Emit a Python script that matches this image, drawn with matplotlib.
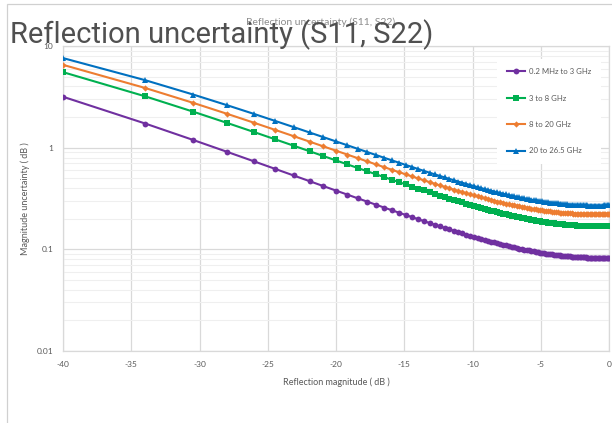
import matplotlib
matplotlib.use("Agg")
import matplotlib.pyplot as plt
from matplotlib.patches import Rectangle
from matplotlib.ticker import FixedLocator, LogLocator, NullFormatter

plt.rcParams['font.family'] = ['Lato', 'DejaVu Sans']

# reflection magnitude (dB), one point per 0.01 of reflection coefficient
refl_db = [
    -40.00, -33.98, -30.46, -27.96, -26.02, -24.44, -23.10, -21.94, -20.92, -20.00,
    -19.17, -18.42, -17.72, -17.08, -16.48, -15.92, -15.39, -14.89, -14.42, -13.98,
    -13.56, -13.15, -12.77, -12.40, -12.04, -11.70, -11.37, -11.06, -10.75, -10.46,
    -10.17, -9.90, -9.63, -9.37, -9.12, -8.87, -8.64, -8.40, -8.18, -7.96,
    -7.74, -7.54, -7.33, -7.13, -6.94, -6.74, -6.56, -6.38, -6.20, -6.02,
    -5.85, -5.68, -5.51, -5.35, -5.19, -5.04, -4.88, -4.73, -4.58, -4.44,
    -4.29, -4.15, -4.01, -3.88, -3.74, -3.61, -3.48, -3.35, -3.22, -3.10,
    -2.97, -2.85, -2.73, -2.62, -2.50, -2.38, -2.27, -2.16, -2.05, -1.94,
    -1.83, -1.72, -1.62, -1.51, -1.41, -1.31, -1.21, -1.11, -1.01, -0.92,
    -0.82, -0.72, -0.63, -0.54, -0.45, -0.35, -0.26, -0.18, -0.09, 0.00,
]

# magnitude uncertainty (dB)
u_0p2_3 = [
    3.168, 1.728, 1.190, 0.908, 0.7347, 0.6172, 0.5324, 0.4685, 0.4185, 0.3783,
    0.3454, 0.3180, 0.2948, 0.2749, 0.2577, 0.2427, 0.2294, 0.2177, 0.2072, 0.1979,
    0.1894, 0.1817, 0.1748, 0.1684, 0.1626, 0.1573, 0.1524, 0.1479, 0.1437, 0.1398,
    0.1362, 0.1329, 0.1297, 0.1268, 0.1241, 0.1216, 0.1192, 0.1169, 0.1148, 0.1129,
    0.1110, 0.1093, 0.1076, 0.1061, 0.1046, 0.1032, 0.1019, 0.1007, 0.0996, 0.0985,
    0.0974, 0.0964, 0.0955, 0.0946, 0.0938, 0.0930, 0.0923, 0.0916, 0.0909, 0.0903,
    0.0897, 0.0892, 0.0887, 0.0882, 0.0877, 0.0873, 0.0869, 0.0865, 0.0861, 0.0858,
    0.0855, 0.0852, 0.0849, 0.0847, 0.0844, 0.0842, 0.0840, 0.0838, 0.0837, 0.0835,
    0.0834, 0.0832, 0.0831, 0.0830, 0.0830, 0.0829, 0.0828, 0.0828, 0.0827, 0.0827,
    0.0827, 0.0827, 0.0827, 0.0827, 0.0827, 0.0828, 0.0828, 0.0829, 0.0829, 0.0830,
]
u_3_8 = [
    5.530, 3.199, 2.259, 1.748, 1.427, 1.206, 1.045, 0.923, 0.8267, 0.7492,
    0.6853, 0.6319, 0.5866, 0.5477, 0.5139, 0.4844, 0.4584, 0.4353, 0.4146, 0.3961,
    0.3794, 0.3643, 0.3505, 0.3380, 0.3265, 0.3159, 0.3062, 0.2972, 0.2889, 0.2812,
    0.2741, 0.2674, 0.2612, 0.2555, 0.2501, 0.2450, 0.2403, 0.2358, 0.2317, 0.2278,
    0.2241, 0.2206, 0.2174, 0.2143, 0.2114, 0.2087, 0.2061, 0.2037, 0.2014, 0.1992,
    0.1972, 0.1952, 0.1934, 0.1917, 0.1901, 0.1885, 0.1871, 0.1857, 0.1844, 0.1832,
    0.1820, 0.1810, 0.1799, 0.1790, 0.1781, 0.1772, 0.1764, 0.1757, 0.1750, 0.1743,
    0.1737, 0.1732, 0.1727, 0.1722, 0.1717, 0.1713, 0.1709, 0.1706, 0.1703, 0.1700,
    0.1697, 0.1695, 0.1693, 0.1692, 0.1690, 0.1689, 0.1688, 0.1687, 0.1687, 0.1687,
    0.1687, 0.1687, 0.1687, 0.1688, 0.1688, 0.1689, 0.1690, 0.1692, 0.1693, 0.1695,
]
u_8_20 = [
    6.527, 3.864, 2.758, 2.148, 1.761, 1.493, 1.297, 1.147, 1.029, 0.9338,
    0.8552, 0.7893, 0.7334, 0.6853, 0.6437, 0.6071, 0.5749, 0.5464, 0.5208, 0.4979,
    0.4773, 0.4585, 0.4415, 0.4260, 0.4118, 0.3987, 0.3867, 0.3757, 0.3655, 0.3560,
    0.3472, 0.3390, 0.3314, 0.3243, 0.3177, 0.3115, 0.3057, 0.3003, 0.2952, 0.2904,
    0.2859, 0.2817, 0.2778, 0.2741, 0.2706, 0.2673, 0.2642, 0.2612, 0.2585, 0.2559,
    0.2535, 0.2512, 0.2490, 0.2470, 0.2450, 0.2432, 0.2415, 0.2399, 0.2385, 0.2370,
    0.2357, 0.2345, 0.2333, 0.2323, 0.2313, 0.2303, 0.2294, 0.2286, 0.2279, 0.2272,
    0.2265, 0.2260, 0.2254, 0.2249, 0.2245, 0.2241, 0.2237, 0.2234, 0.2232, 0.2229,
    0.2228, 0.2226, 0.2225, 0.2224, 0.2223, 0.2223, 0.2223, 0.2223, 0.2224, 0.2225,
    0.2226, 0.2227, 0.2229, 0.2231, 0.2233, 0.2235, 0.2238, 0.2240, 0.2243, 0.2246,
]
u_20_26p5 = [
    7.605, 4.611, 3.330, 2.611, 2.150, 1.829, 1.593, 1.411, 1.268, 1.152,
    1.056, 0.975, 0.9064, 0.8474, 0.7961, 0.7512, 0.7115, 0.6762, 0.6447, 0.6164,
    0.5908, 0.5676, 0.5465, 0.5272, 0.5096, 0.4934, 0.4785, 0.4647, 0.4519, 0.4401,
    0.4292, 0.4189, 0.4094, 0.4005, 0.3923, 0.3845, 0.3772, 0.3704, 0.3640, 0.3580,
    0.3524, 0.3471, 0.3421, 0.3374, 0.3329, 0.3288, 0.3248, 0.3211, 0.3176, 0.3143,
    0.3112, 0.3083, 0.3055, 0.3029, 0.3004, 0.2981, 0.2959, 0.2938, 0.2919, 0.2900,
    0.2883, 0.2867, 0.2851, 0.2837, 0.2824, 0.2811, 0.2800, 0.2788, 0.2778, 0.2769,
    0.2760, 0.2752, 0.2744, 0.2737, 0.2731, 0.2725, 0.2720, 0.2715, 0.2711, 0.2707,
    0.2704, 0.2701, 0.2699, 0.2697, 0.2695, 0.2694, 0.2693, 0.2693, 0.2692, 0.2693,
    0.2693, 0.2694, 0.2695, 0.2697, 0.2698, 0.2700, 0.2703, 0.2705, 0.2708, 0.2711,
]

series = [
    ("0.2 MHz to 3 GHz", u_0p2_3, "#7030A0", "o", 4.2),
    ("3 to 8 GHz", u_3_8, "#00B050", "s", 4.0),
    ("8 to 20 GHz", u_8_20, "#ED7D31", "D", 3.2),
    ("20 to 26.5 GHz", u_20_26p5, "#0070C0", "^", 4.4),
]

gray = "#595959"
fig = plt.figure(figsize=(6.12, 4.23), dpi=100)
ax = fig.add_axes([63/612, 1 - 351/423, 546/612, 305/423])

for name, vals, col, mk, ms in series:
    ax.plot(refl_db, vals, color=col, marker=mk, markersize=ms, lw=1.5,
            markeredgewidth=0, label=name, zorder=3)

ax.set_yscale("log")
ax.set_ylim(0.01, 10)
ax.set_xlim(-40, 0)
ax.xaxis.set_major_locator(FixedLocator([-40, -35, -30, -25, -20, -15, -10, -5, 0]))
ax.set_xticklabels(["-40", "-35", "-30", "-25", "-20", "-15", "-10", "-5", "0"])
ax.yaxis.set_major_locator(FixedLocator([0.01, 0.1, 1, 10]))
ax.set_yticklabels(["0.01", "0.1", "1", "10"])
ax.yaxis.set_minor_locator(LogLocator(base=10, subs=range(2, 10)))
ax.yaxis.set_minor_formatter(NullFormatter())

ax.grid(True, which="major", color="#d9d9d9", lw=0.9)
ax.grid(True, which="minor", axis="y", color="#efefef", lw=0.8)
ax.set_axisbelow(True)
for s in ax.spines.values():
    s.set_color("#d9d9d9")
    s.set_linewidth(0.9)
ax.tick_params(which="both", length=0, labelsize=6, labelcolor=gray)
ax.tick_params(axis="x", pad=7)
ax.tick_params(axis="y", pad=7)

ax.set_xlabel("Reflection magnitude ( dB )", fontsize=6.5, color=gray, labelpad=7)
ax.set_ylabel("Magnitude uncertainty ( dB )", fontsize=6.5, color=gray, labelpad=5)

leg = ax.legend(loc="upper right", bbox_to_anchor=(0.985, 0.958), borderaxespad=0,
                fontsize=5.6, labelspacing=2.5, handlelength=2.4, handletextpad=0.5,
                frameon=True, fancybox=False, framealpha=1, borderpad=1.2)
leg.get_frame().set_edgecolor("none")
leg.get_frame().set_facecolor("white")
for t in leg.get_texts():
    t.set_color(gray)

fig.text(0.523, 0.947, "Reflection uncertainty (S11, S22)", fontsize=7.5,
         color="#8c8c8c", ha="center", va="center")
fig.text(10/612, 1 - 35/423, "Reflection uncertainty (S11, S22)", fontsize=21,
         color="#505050", ha="left", va="center", family=["Roboto", "DejaVu Sans"])

fig.patches.append(Rectangle((7/612, -0.1), 1.2, 1.1 - 4/423, transform=fig.transFigure,
                             fill=False, edgecolor="#d0d0d0", lw=0.9))

fig.savefig("out.png", dpi=100)
